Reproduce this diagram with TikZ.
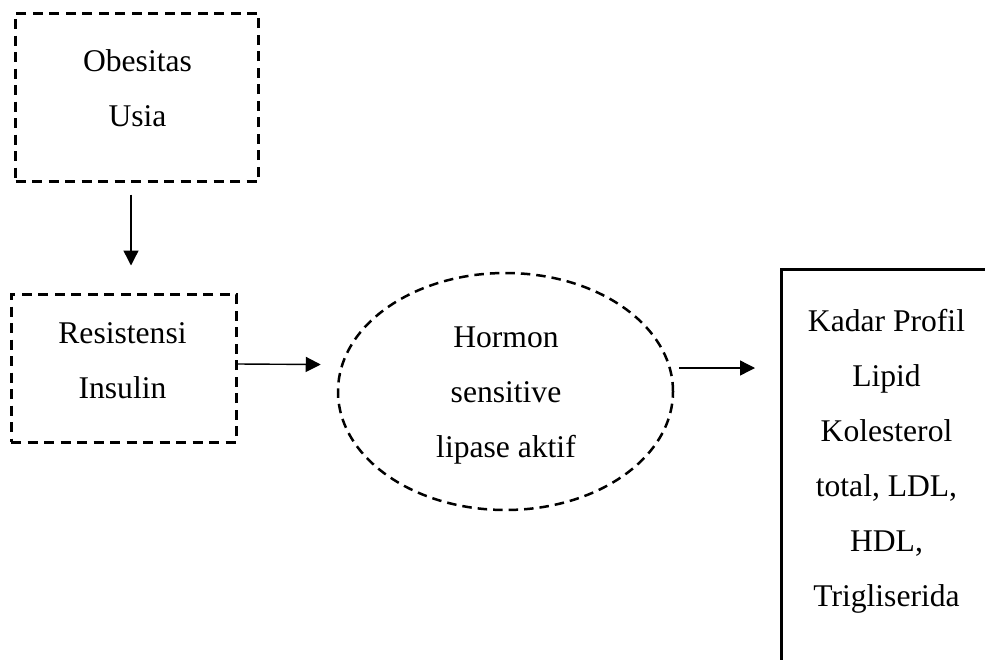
\documentclass[tikz,border=0pt]{standalone}
\usepackage{fontspec}
\setmainfont{Liberation Serif}
\usetikzlibrary{arrows.meta,shapes.geometric}
\begin{document}
\begin{tikzpicture}[x=1pt,y=-1pt,
 dbox/.style={draw, line width=3pt, dash pattern=on 10pt off 6.5pt, rectangle, inner sep=0pt},
 dell/.style={draw, line width=2.5pt, dash pattern=on 9.5pt off 6pt, ellipse, inner sep=0pt},
 sbox/.style={draw, line width=2.6pt, rectangle, inner sep=0pt},
 txt/.style={align=center, font=\fontsize{31.6}{55}\selectfont, inner sep=0pt},
 arr/.style={-{Triangle[length=15pt,width=15pt]}, line width=1.4pt}]
\useasboundingbox (0,0) rectangle (985,659);
\clip (0,0) rectangle (985,659);

% boxes
\node[dbox, minimum width=243pt, minimum height=168pt] (a) at (137,97) {};
\node[txt] (at) at (137.5,88.5) {Obesitas\\Usia};

\node[dbox, minimum width=225pt, minimum height=148pt] (b) at (123.5,368) {};
\node[txt] (bt) at (122.5,360.5) {Resistensi\\Insulin};

\node[dell, minimum width=335pt, minimum height=237pt] (c) at (505.5,391.5) {};
\node[txt] (ct) at (506,396) {Hormon\\sensitive\\lipase aktif};

\node[sbox, anchor=north west, minimum width=260pt, minimum height=450pt] (d) at (780,268) {};
\node[txt] (dt) at (886.5,461.5) {Kadar Profil\\Lipid\\Kolesterol\\total, LDL,\\HDL,\\Trigliserida};

% connectors
\draw[arr] ([xshift=-6pt,yshift=-12pt]a.south) -- ([xshift=7.5pt,yshift=27pt]b.north);
\draw[arr] ([yshift=4pt]b.east) -- ([xshift=-16pt,yshift=27pt]c.west);
\draw[arr] ([xshift=5pt,yshift=23.5pt]c.east) -- ([xshift=-25pt,yshift=-100pt]d.north west);
\end{tikzpicture}
\end{document}
